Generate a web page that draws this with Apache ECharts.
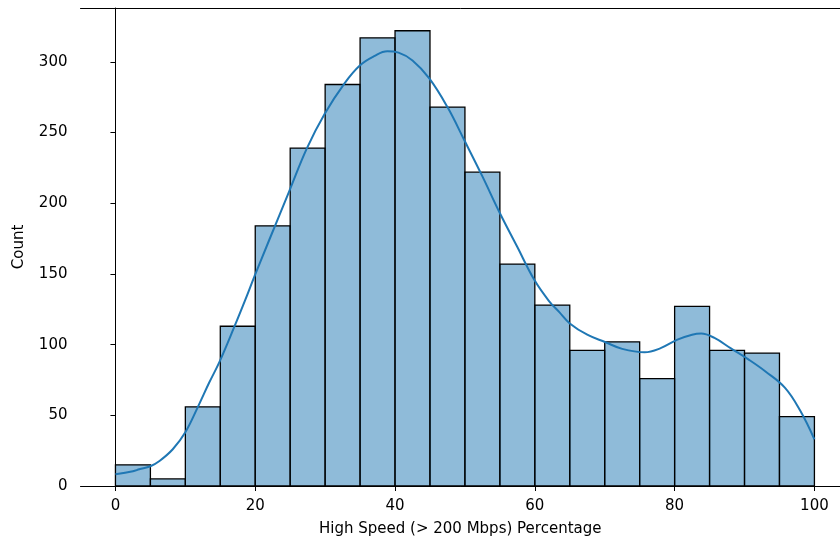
<!DOCTYPE html>
<html>
<head>
<meta charset="utf-8">
<script src="https://cdn.jsdelivr.net/npm/echarts@6/dist/echarts.min.js"></script>
<style>
html,body{margin:0;padding:0;background:#fff;}
#chart{width:840px;height:542px;}
</style>
</head>
<body>
<div id="chart"></div>
<script>
// Histogram bins (left edge, right edge) and counts
const binStart = [0, 5, 10, 15, 20, 25, 30, 35, 40, 45, 50, 55, 60, 65, 70, 75, 80, 85, 90, 95];
const binEnd   = [5, 10, 15, 20, 25, 30, 35, 40, 45, 50, 55, 60, 65, 70, 75, 80, 85, 90, 95, 100];
const counts   = [15, 5, 56, 113, 184, 239, 284, 317, 322, 268, 222, 157, 128, 96, 102, 76, 127, 96, 94, 49];

// KDE curve (scaled to counts)
const kdeX = [0, 2.5, 3.4, 5, 6.3, 8.2, 10, 11.8, 13.4, 14.9, 17, 18.6, 19.9, 22, 24.9, 27.4, 29.9, 32.8, 35, 37, 38.9, 40.5, 42.5, 44.9, 47.5, 49.9, 52.5, 54.9, 57.5, 59.9, 62, 63.5, 65, 67.5, 70.1, 72.5, 75.7, 78, 80.4, 82.5, 83.8, 85.7, 88, 90.6, 93, 95.8, 98, 100];
const kdeY = [8.3, 10.5, 11.8, 14, 17.7, 26, 38, 56, 73, 88, 112.5, 132, 148.5, 174, 209, 239, 263, 285, 297.6, 304, 307.5, 306.5, 301, 288.3, 268, 244.7, 219, 194, 169, 146, 131, 123, 115, 107, 101.7, 97, 94.6, 97.5, 103.5, 107, 107.8, 104.7, 97.5, 89.4, 81, 69.4, 53, 33];

// Tick labels
const xTicks = [0, 20, 40, 60, 80, 100];
const yTicks = [0, 50, 100, 150, 200, 250, 300];

const xLabel = 'High Speed (> 200 Mbps) Percentage';
const yLabel = 'Count';

const histData = binStart.map((s, i) => [s, binEnd[i], counts[i]]);
const kdeData = kdeX.map((x, i) => [x, kdeY[i]]);

const font = 'DejaVu Sans';
const fs = 15;
const chart = echarts.init(document.getElementById('chart'), null, {renderer: 'canvas'});
chart.setOption({
  animation: false,
  backgroundColor: '#fff',
  grid: {
    left: 80.5, right: 0, top: 8, height: 478.7,
    show: false
  },
  xAxis: [{
    type: 'value', min: -5, max: 103.66,
    name: xLabel, nameLocation: 'middle', nameGap: 36,
    nameTextStyle: {fontFamily: font, fontSize: fs, color: '#000'},
    splitLine: {show: false},
    axisLine: {show: true, onZero: false, lineStyle: {color: '#000', width: 1}},
    axisTick: {show: true, length: 5, lineStyle: {color: '#000', width: 1}, customValues: xTicks},
    axisLabel: {fontFamily: font, fontSize: fs, color: '#000', margin: 12.5, customValues: xTicks}
  }, {
    type: 'value', min: -5, max: 103.66, position: 'top',
    splitLine: {show: false},
    axisLine: {show: true, onZero: false, lineStyle: {color: '#000', width: 1}},
    axisTick: {show: false},
    axisLabel: {show: false}
  }],
  yAxis: {
    type: 'value', min: 0, max: 338.1,
    name: yLabel, nameLocation: 'middle', nameGap: 54, nameRotate: 90,
    nameTextStyle: {fontFamily: font, fontSize: fs, color: '#000'},
    splitLine: {show: false},
    axisLine: {show: true, lineStyle: {color: '#000', width: 1}},
    axisTick: {show: true, length: 5, lineStyle: {color: '#000', width: 1}, customValues: yTicks},
    axisLabel: {fontFamily: font, fontSize: fs, color: '#000', margin: 13, customValues: yTicks}
  },
  series: [
    {
      type: 'custom',
      data: histData,
      encode: {x: [0, 1], y: 2},
      renderItem: function (params, api) {
        const p0 = api.coord([api.value(0), api.value(2)]);
        const p1 = api.coord([api.value(1), 0]);
        return {
          type: 'rect',
          shape: {x: p0[0], y: p0[1], width: p1[0] - p0[0], height: p1[1] - p0[1]},
          style: {fill: 'rgba(31,119,180,0.5)', stroke: '#000', lineWidth: 1.3}
        };
      },
      z: 2
    },
    {
      type: 'line',
      data: kdeData,
      showSymbol: false,
      smooth: 0.4,
      lineStyle: {color: '#1f77b4', width: 2},
      z: 3
    }
  ]
});
</script>
</body>
</html>
